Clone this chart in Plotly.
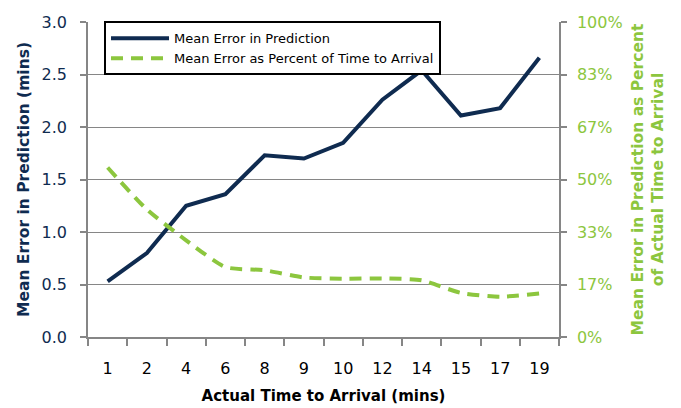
import plotly.graph_objects as go

categories = ["1", "2", "4", "6", "8", "9", "10", "12", "14", "15", "17", "19"]
mean_error_mins = [0.53, 0.80, 1.25, 1.36, 1.73, 1.70, 1.85, 2.26, 2.54, 2.11, 2.18, 2.66]
mean_error_pct = [0.538, 0.405, 0.307, 0.222, 0.212, 0.189, 0.185, 0.186, 0.180, 0.140, 0.128, 0.138]
pct_tickvals = [0, 1/6, 2/6, 3/6, 4/6, 5/6, 1]
pct_ticktext = ["0%", "17%", "33%", "50%", "67%", "83%", "100%"]

NAVY = "#0F2B50"
GREEN = "#8CC63E"
GRID = "#868686"
FONT = "Lato, 'Open Sans', sans-serif"
TFONT = "'DejaVu Sans', Verdana, sans-serif"

fig = go.Figure()
fig.add_trace(go.Scatter(
    x=categories, y=mean_error_mins, name="Mean Error in Prediction",
    mode="lines", line=dict(color=NAVY, width=4), yaxis="y"))
fig.add_trace(go.Scatter(
    x=categories, y=mean_error_pct, name="Mean Error as Percent of Time to Arrival",
    mode="lines", line=dict(color=GREEN, width=4, dash="12px,8px", shape="spline", smoothing=0.6),
    yaxis="y2"))

# page body has an 8px default margin, so the figure is sized to fit the 681x408 window
fig.update_layout(
    width=673, height=400,
    margin=dict(l=80, r=122, t=14, b=71),
    paper_bgcolor="white", plot_bgcolor="white",
    font=dict(family=FONT, color="black"),
    showlegend=True,
    legend=dict(
        x=0.034, y=1.002, xanchor="left", yanchor="top",
        bgcolor="white", bordercolor="black", borderwidth=2,
        font=dict(size=13, color="black", family=TFONT),
        tracegroupgap=0, itemwidth=58,
    ),
    xaxis=dict(
        type="category", range=[-0.5, len(categories) - 0.5], automargin=False,
        showline=True, linecolor=GRID, linewidth=2,
        ticks="outside", tickson="boundaries", ticklen=7, tickcolor=GRID, tickwidth=2,
        ticklabelstandoff=16,
        tickfont=dict(size=16, color="black", family=TFONT),
        title=dict(text="<b>Actual Time to Arrival (mins)</b>",
                   font=dict(size=15, color="black", family=TFONT), standoff=13),
        showgrid=False,
    ),
    yaxis=dict(
        range=[0, 3], dtick=0.5, tickformat=".1f", automargin=False,
        showgrid=True, gridcolor=GRID, gridwidth=1.3,
        showline=True, linecolor=GRID, linewidth=1.5,
        ticks="outside", ticklen=6, tickcolor=GRID, tickwidth=1.5,
        ticklabelstandoff=10,
        tickfont=dict(size=16, color=NAVY, family=TFONT),
        title=dict(text="<b>Mean Error in Prediction (mins)</b>",
                   font=dict(size=15.5, color=NAVY, family=TFONT), standoff=8),
        zeroline=False,
    ),
    yaxis2=dict(
        range=[0, 1], overlaying="y", side="right", automargin=False,
        tickvals=pct_tickvals, ticktext=pct_ticktext,
        showgrid=False, showline=True, linecolor=GRID, linewidth=1.5,
        ticks="outside", ticklen=6, tickcolor=GRID, tickwidth=1.5,
        ticklabelstandoff=7,
        tickfont=dict(size=16, color=GREEN, family=TFONT),
        title=dict(text="<b>Mean Error in Prediction as Percent<br>of Actual Time to Arrival</b>",
                   font=dict(size=15.5, color=GREEN, family=TFONT), standoff=10),
        zeroline=False,
    ),
)

fig.write_html("out.html")
